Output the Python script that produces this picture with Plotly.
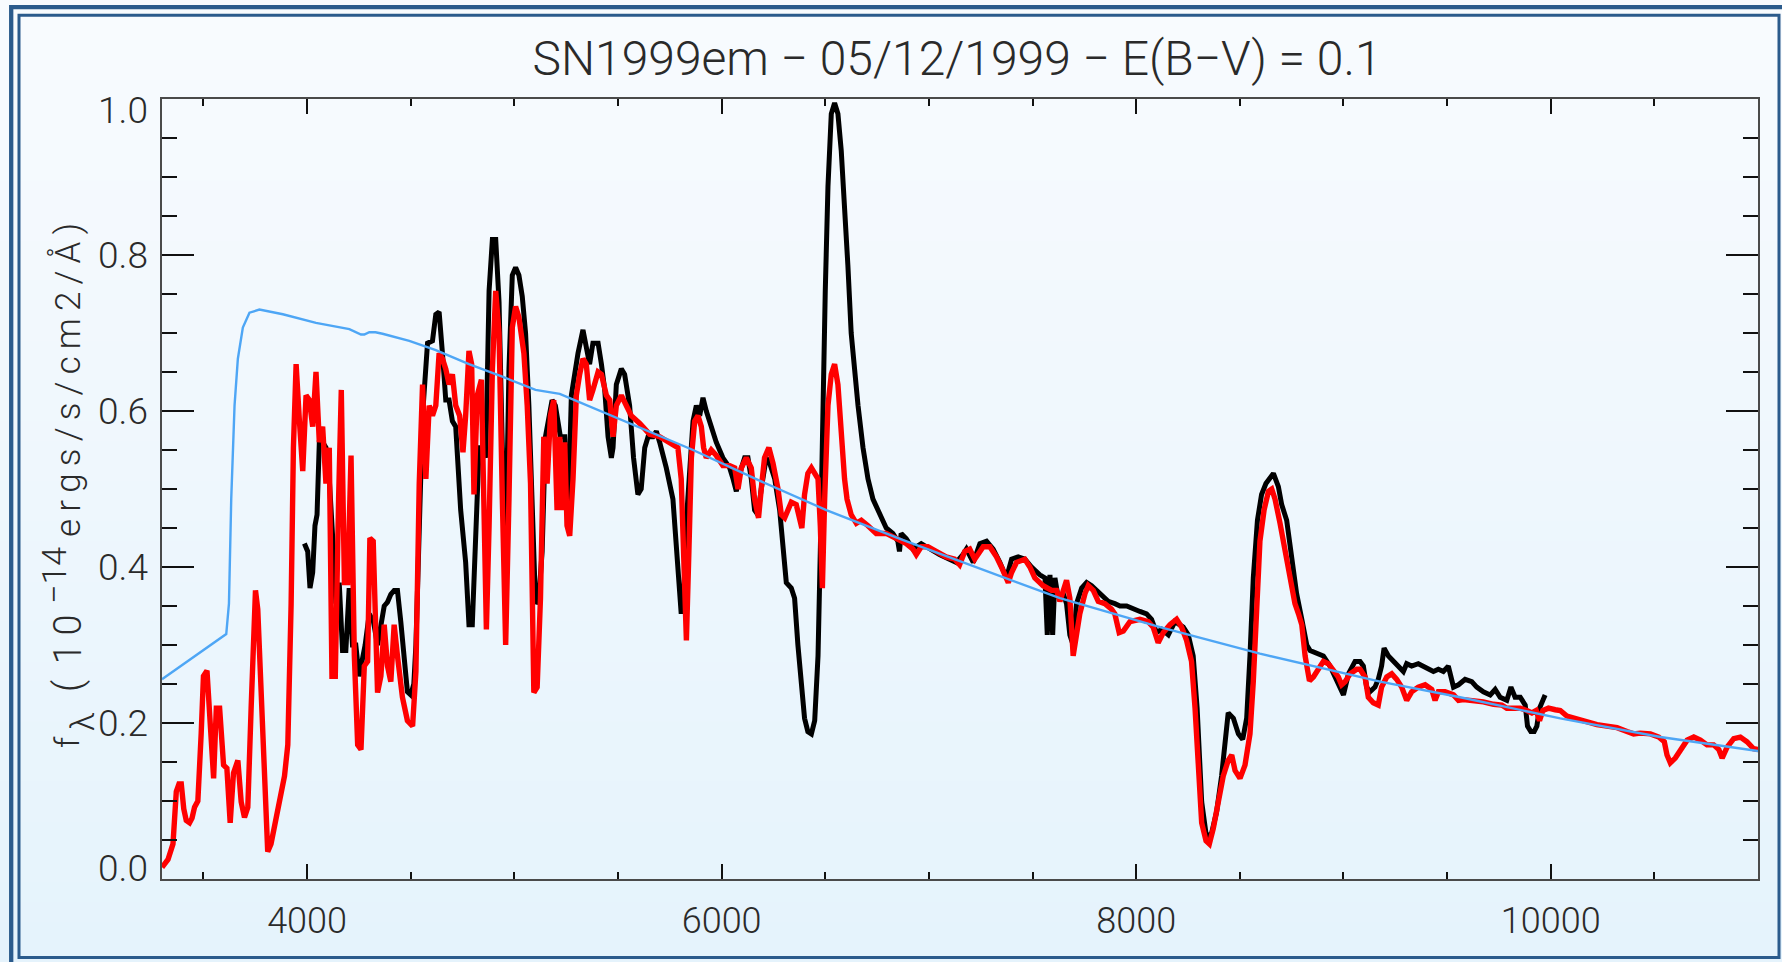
import plotly.graph_objects as go

# ---- spectra (wavelength in Angstrom, flux in 1e-14 erg/s/cm2/A) ----
wave_model = [3300, 3329, 3353, 3369, 3382, 3393, 3405, 3417, 3433, 3445, 3457, 3473, 3489, 3500,
              3517, 3533, 3549, 3562, 3578, 3597, 3613, 3629, 3645, 3666, 3682, 3698, 3714, 3730,
              3751, 3762, 3786, 3810, 3826, 3859, 3891, 3907, 3923, 3934, 3947, 3963, 3979, 3995,
              4011, 4027, 4043, 4059, 4075, 4091, 4107, 4120, 4136, 4152, 4165, 4180, 4196, 4212,
              4228, 4244, 4260, 4276, 4292, 4303, 4319, 4340, 4356, 4372, 4388, 4404, 4420, 4436,
              4460, 4484, 4509, 4525, 4541, 4557, 4573, 4589, 4605, 4621, 4637, 4653, 4669, 4685,
              4701, 4717, 4736, 4752, 4765, 4781, 4794, 4805, 4821, 4841, 4854, 4865, 4878, 4894,
              4910, 4926, 4942, 4958, 4974, 4990, 5006, 5022, 5046, 5062, 5078, 5094, 5110, 5126,
              5142, 5158, 5174, 5190, 5206, 5219, 5232, 5243, 5254, 5267, 5283, 5299, 5315, 5331,
              5347, 5363, 5379, 5404, 5420, 5444, 5460, 5476, 5492, 5516, 5540, 5564, 5605, 5653,
              5701, 5749, 5789, 5805, 5817, 5830, 5842, 5854, 5870, 5886, 5902, 5913, 5926, 5950,
              5974, 6006, 6039, 6063, 6079, 6095, 6119, 6143, 6159, 6178, 6191, 6207, 6228, 6248,
              6272, 6288, 6304, 6320, 6336, 6360, 6376, 6387, 6400, 6416, 6433, 6449, 6465, 6476,
              6486, 6497, 6513, 6529, 6545, 6561, 6577, 6593, 6605, 6625, 6650, 6674, 6706, 6746,
              6794, 6842, 6891, 6923, 6939, 6963, 6995, 7035, 7083, 7124, 7148, 7173, 7197, 7221,
              7237, 7262, 7294, 7326, 7350, 7383, 7399, 7423, 7463, 7487, 7511, 7551, 7592, 7616,
              7632, 7648, 7664, 7680, 7696, 7712, 7728, 7753, 7769, 7793, 7817, 7849, 7881, 7897,
              7918, 7938, 7970, 8018, 8058, 8082, 8106, 8131, 8163, 8195, 8219, 8243, 8267, 8284,
              8300, 8316, 8337, 8353, 8372, 8396, 8420, 8444, 8461, 8477, 8501, 8525, 8549, 8565,
              8581, 8597, 8617, 8638, 8654, 8670, 8694, 8718, 8742, 8766, 8783, 8799, 8815, 8836,
              8855, 8879, 8903, 8927, 8951, 8975, 8991, 9008, 9032, 9064, 9080, 9104, 9120, 9144,
              9168, 9184, 9209, 9233, 9257, 9281, 9305, 9329, 9361, 9394, 9426, 9442, 9458, 9490,
              9531, 9555, 9579, 9627, 9675, 9724, 9764, 9788, 9820, 9853, 9885, 9909, 9930, 9946,
              9962, 9989, 10022, 10046, 10078, 10126, 10175, 10223, 10271, 10320, 10368, 10400,
              10432, 10481, 10521, 10548, 10561, 10577, 10601, 10625, 10658, 10690, 10722, 10754,
              10786, 10811, 10827, 10851, 10883, 10915, 10947, 10979, 11000]
flux_model = [0.015, 0.025, 0.045, 0.112, 0.122, 0.122, 0.090, 0.075, 0.072, 0.078, 0.092, 0.100, 0.186, 0.260,
              0.267, 0.186, 0.129, 0.219, 0.219, 0.146, 0.142, 0.072, 0.136, 0.152, 0.099, 0.079, 0.092, 0.219,
              0.370, 0.346, 0.186, 0.035, 0.045, 0.086, 0.132, 0.172, 0.353, 0.553, 0.660, 0.587, 0.523, 0.620,
              0.614, 0.580, 0.650, 0.560, 0.580, 0.507, 0.553, 0.260, 0.260, 0.487, 0.627, 0.380, 0.380, 0.543,
              0.286, 0.172, 0.166, 0.273, 0.279, 0.437, 0.433, 0.239, 0.260, 0.326, 0.273, 0.253, 0.326, 0.286,
              0.233, 0.203, 0.196, 0.266, 0.507, 0.634, 0.513, 0.607, 0.594, 0.607, 0.674, 0.667, 0.654, 0.634,
              0.647, 0.607, 0.594, 0.547, 0.594, 0.677, 0.660, 0.493, 0.620, 0.640, 0.467, 0.320, 0.453, 0.654,
              0.754, 0.700, 0.487, 0.300, 0.487, 0.707, 0.734, 0.720, 0.674, 0.607, 0.507, 0.239, 0.246, 0.360,
              0.567, 0.507, 0.594, 0.614, 0.473, 0.567, 0.473, 0.560, 0.453, 0.440, 0.513, 0.620, 0.647, 0.667,
              0.660, 0.614, 0.627, 0.650, 0.647, 0.620, 0.614, 0.567, 0.607, 0.620, 0.607, 0.594, 0.584, 0.570,
              0.567, 0.560, 0.553, 0.513, 0.420, 0.306, 0.420, 0.540, 0.587, 0.594, 0.580, 0.553, 0.540, 0.550,
              0.543, 0.530, 0.530, 0.527, 0.500, 0.527, 0.540, 0.527, 0.487, 0.463, 0.500, 0.540, 0.553, 0.533,
              0.500, 0.467, 0.463, 0.473, 0.483, 0.480, 0.460, 0.450, 0.493, 0.520, 0.527, 0.520, 0.513, 0.453,
              0.373, 0.487, 0.607, 0.647, 0.660, 0.634, 0.567, 0.513, 0.487, 0.467, 0.456, 0.460, 0.453, 0.443,
              0.443, 0.436, 0.430, 0.423, 0.416, 0.426, 0.426, 0.420, 0.413, 0.410, 0.403, 0.420, 0.423, 0.410,
              0.416, 0.426, 0.426, 0.413, 0.400, 0.380, 0.393, 0.406, 0.410, 0.400, 0.386, 0.376, 0.370, 0.370,
              0.356, 0.370, 0.383, 0.360, 0.286, 0.313, 0.340, 0.366, 0.376, 0.370, 0.356, 0.353, 0.346, 0.340,
              0.316, 0.318, 0.330, 0.333, 0.330, 0.323, 0.303, 0.316, 0.326, 0.333, 0.323, 0.306, 0.279, 0.219,
              0.132, 0.072, 0.049, 0.045, 0.065, 0.099, 0.132, 0.152, 0.159, 0.139, 0.129, 0.146, 0.186, 0.253,
              0.353, 0.433, 0.473, 0.497, 0.500, 0.487, 0.456, 0.420, 0.383, 0.353, 0.340, 0.326, 0.286, 0.254,
              0.259, 0.269, 0.279, 0.276, 0.266, 0.259, 0.249, 0.253, 0.263, 0.269, 0.269, 0.259, 0.233, 0.226,
              0.223, 0.246, 0.259, 0.263, 0.256, 0.246, 0.229, 0.240, 0.246, 0.249, 0.243, 0.229, 0.240, 0.240,
              0.236, 0.229, 0.230, 0.229, 0.227, 0.224, 0.223, 0.219, 0.219, 0.219, 0.216, 0.213, 0.216, 0.203,
              0.216, 0.219, 0.217, 0.216, 0.209, 0.205, 0.201, 0.198, 0.196, 0.194, 0.189, 0.186,
              0.187, 0.186, 0.182, 0.176, 0.159, 0.149, 0.155, 0.166, 0.178, 0.182, 0.178, 0.172,
              0.172, 0.166, 0.155, 0.169, 0.180, 0.182, 0.176, 0.167, 0.166]

wave_obs = [3987, 4003, 4014, 4027, 4038, 4048, 4059, 4075, 4091, 4107, 4123, 4139, 4155, 4171, 4187,
            4203, 4219, 4235, 4251, 4265, 4280, 4300, 4320, 4340, 4356, 4372, 4388, 4404, 4420, 4436,
            4452, 4468, 4484, 4500, 4515, 4525, 4557, 4581, 4605, 4621, 4637, 4653, 4669, 4685, 4701,
            4717, 4741, 4765, 4781, 4797, 4810, 4830, 4846, 4862, 4878, 4894, 4910, 4926, 4942, 4958,
            4974, 4990, 5006, 5022, 5038, 5054, 5070, 5086, 5102, 5118, 5134, 5150, 5166, 5182, 5198,
            5222, 5243, 5259, 5275, 5291, 5307, 5331, 5347, 5363, 5379, 5404, 5420, 5436, 5452, 5468,
            5476, 5492, 5516, 5532, 5556, 5575, 5596, 5612, 5629, 5645, 5669, 5685, 5701, 5733, 5765,
            5789, 5805, 5817, 5835, 5862, 5878, 5894, 5910, 5926, 5950, 5974, 6006, 6039, 6055, 6071,
            6087, 6111, 6127, 6143, 6159, 6175, 6191, 6215, 6232, 6256, 6280, 6296, 6312, 6336, 6352,
            6368, 6384, 6400, 6416, 6433, 6449, 6465, 6476, 6489, 6500, 6513, 6529, 6545, 6561, 6577,
            6593, 6609, 6625, 6641, 6658, 6682, 6706, 6730, 6762, 6794, 6826, 6850, 6858, 6866, 6891,
            6923, 6963, 7003, 7051, 7099, 7132, 7164, 7181, 7214, 7246, 7278, 7310, 7342, 7374, 7399,
            7431, 7463, 7495, 7535, 7560, 7571, 7584, 7597, 7608, 7624, 7648, 7664, 7680, 7696, 7712,
            7737, 7761, 7785, 7809, 7833, 7865, 7897, 7922, 7954, 7986, 8018, 8050, 8074, 8098, 8123,
            8155, 8187, 8227, 8251, 8275, 8294, 8316, 8340, 8364, 8388, 8412, 8428, 8444, 8469, 8493,
            8514, 8533, 8549, 8565, 8585, 8605, 8626, 8646, 8662, 8686, 8702, 8726, 8750, 8774, 8799,
            8823, 8839, 8871, 8903, 8935, 8967, 9000, 9024, 9056, 9080, 9096, 9112, 9128, 9152, 9168,
            9184, 9196, 9217, 9241, 9265, 9289, 9305, 9329, 9361, 9386, 9410, 9434, 9458, 9482, 9506,
            9531, 9555, 9587, 9619, 9643, 9675, 9708, 9732, 9756, 9788, 9808, 9828, 9853, 9877, 9888,
            9904, 9920, 9933, 9946, 9962, 9973]
flux_obs = [0.430, 0.420, 0.373, 0.393, 0.453, 0.467, 0.560, 0.560, 0.553, 0.513, 0.440, 0.353, 0.380, 0.293, 0.293,
            0.373, 0.300, 0.300, 0.260, 0.280, 0.300, 0.340, 0.330, 0.300, 0.330, 0.350, 0.355, 0.365, 0.370, 0.370,
            0.330, 0.280, 0.240, 0.236, 0.250, 0.300, 0.594, 0.687, 0.690, 0.724, 0.727, 0.674, 0.614, 0.614, 0.587,
            0.580, 0.473, 0.406, 0.326, 0.326, 0.420, 0.553, 0.553, 0.540, 0.754, 0.820, 0.820, 0.740, 0.553, 0.420,
            0.654, 0.774, 0.784, 0.774, 0.747, 0.700, 0.607, 0.453, 0.353, 0.360, 0.420, 0.567, 0.594, 0.614, 0.607,
            0.567, 0.567, 0.460, 0.620, 0.647, 0.674, 0.704, 0.680, 0.660, 0.687, 0.687, 0.660, 0.627, 0.567, 0.540,
            0.553, 0.634, 0.654, 0.647, 0.607, 0.540, 0.493, 0.500, 0.553, 0.567, 0.567, 0.574, 0.560, 0.527, 0.487,
            0.406, 0.340, 0.366, 0.480, 0.587, 0.607, 0.594, 0.617, 0.600, 0.580, 0.560, 0.540, 0.527, 0.513, 0.497,
            0.520, 0.540, 0.540, 0.513, 0.473, 0.467, 0.500, 0.540, 0.533, 0.513, 0.473, 0.420, 0.380, 0.373, 0.360,
            0.300, 0.246, 0.206, 0.189, 0.186, 0.203, 0.286, 0.420, 0.620, 0.754, 0.888, 0.981, 0.995, 0.981, 0.934,
            0.868, 0.787, 0.700, 0.647, 0.607, 0.553, 0.513, 0.487, 0.467, 0.450, 0.443, 0.433, 0.420, 0.443, 0.436,
            0.423, 0.430, 0.423, 0.416, 0.410, 0.406, 0.416, 0.423, 0.406, 0.430, 0.433, 0.423, 0.406, 0.386, 0.410,
            0.413, 0.410, 0.400, 0.390, 0.386, 0.313, 0.390, 0.313, 0.386, 0.360, 0.366, 0.353, 0.313, 0.300, 0.353,
            0.373, 0.380, 0.376, 0.370, 0.366, 0.356, 0.353, 0.350, 0.350, 0.346, 0.343, 0.340, 0.333, 0.316, 0.320,
            0.313, 0.330, 0.323, 0.313, 0.286, 0.219, 0.099, 0.052, 0.059, 0.086, 0.132, 0.179, 0.213, 0.206, 0.186,
            0.179, 0.206, 0.286, 0.386, 0.460, 0.493, 0.507, 0.513, 0.520, 0.503, 0.480, 0.460, 0.413, 0.366, 0.333,
            0.300, 0.293, 0.290, 0.286, 0.273, 0.253, 0.236, 0.263, 0.279, 0.279, 0.273, 0.246, 0.240, 0.246, 0.256,
            0.273, 0.296, 0.286, 0.279, 0.273, 0.266, 0.276, 0.273, 0.276, 0.273, 0.269, 0.266, 0.269, 0.266, 0.273,
            0.246, 0.249, 0.256, 0.253, 0.246, 0.240, 0.236, 0.243, 0.233, 0.229, 0.246, 0.233, 0.233, 0.223, 0.196,
            0.189, 0.189, 0.196, 0.219, 0.229, 0.236]

wave_cont = [3300, 3400, 3500, 3560, 3610, 3623, 3634, 3650, 3666, 3690, 3722, 3770, 3883, 4043, 4204,
             4260, 4276, 4300, 4330, 4364, 4493, 4621, 4781, 4942, 5102, 5219, 5540, 5862, 6180, 6505,
             6870, 7244, 7632, 8115, 8597, 9177, 9563, 10046, 10529, 11000]
flux_cont = [0.256, 0.275, 0.293, 0.305, 0.314, 0.353, 0.487, 0.607, 0.667, 0.707, 0.726, 0.730, 0.724, 0.713, 0.705,
             0.698, 0.698, 0.701, 0.701, 0.699, 0.690, 0.678, 0.660, 0.644, 0.627, 0.622, 0.586, 0.550, 0.511, 0.473,
             0.435, 0.398, 0.360, 0.323, 0.289, 0.253, 0.233, 0.206, 0.182, 0.164]

x_major = [4000, 6000, 8000, 10000]
y_major = [0.0, 0.2, 0.4, 0.6, 0.8, 1.0]
y_labels = ["0.0", "0.2", "0.4", "0.6", "0.8", "1.0"]

title_text = "SN1999em − 05/12/1999 − E(B−V) = 0.1"

# y-axis title pieces: (text, centre x px, centre y px, font size)
THIN = "\u2009"
ytitle_parts = [
    ("f", 67, 742, 34),
    ("λ", 82, 722, 34),
    ("(" + THIN + THIN + "1" + THIN + "0", 68, 653, 38),
    ("−14", 54, 576, 34),
    (THIN.join("ergs/s/cm2/Å)"), 67, 380, 35),
]

# ---- page geometry ----
W, H = 1782, 962
ML, MR, MT, MB = 162, 24, 99, 83
PW, PH = W - ML - MR, H - MT - MB


def px(x):
    return (x - ML) / PW


def py(y):
    return (H - MB - y) / PH


FONT = "Roboto"
TEXT_COLOR = "#2a2a2a"
FRAME = "#2b5b8c"

fig = go.Figure()
fig.add_trace(go.Scatter(x=wave_obs, y=flux_obs, mode="lines",
                         line=dict(color="#000000", width=5.0), hoverinfo="skip"))
fig.add_trace(go.Scatter(x=wave_model, y=flux_model, mode="lines",
                         line=dict(color="#ff0000", width=5.4), hoverinfo="skip"))
fig.add_trace(go.Scatter(x=wave_cont, y=flux_cont, mode="lines",
                         line=dict(color="#4ea6f5", width=2.4), hoverinfo="skip"))

# vertical background gradient, pale at the top to light blue at the bottom
shapes = []
n_bands = 48
top_rgb = (248, 251, 254)
bot_rgb = (229, 243, 252)
for i in range(n_bands):
    t = i / (n_bands - 1)
    c = tuple(round(a + (b - a) * t) for a, b in zip(top_rgb, bot_rgb))
    y0 = H * i / n_bands
    y1 = H * (i + 1) / n_bands + 1
    shapes.append(dict(type="rect", xref="paper", yref="paper", layer="below",
                       x0=px(-5), x1=px(W + 5), y0=py(y1), y1=py(y0),
                       fillcolor="rgb(%d,%d,%d)" % c, line=dict(width=0)))

# double frame
shapes.append(dict(type="rect", xref="paper", yref="paper", layer="above",
                   x0=px(11.2), x1=px(W + 20), y0=py(H + 20), y1=py(7.2),
                   line=dict(color=FRAME, width=4.3), fillcolor="rgba(0,0,0,0)"))
shapes.append(dict(type="rect", xref="paper", yref="paper", layer="above",
                   x0=px(19), x1=px(1779), y0=py(957.6), y1=py(15.3),
                   line=dict(color=FRAME, width=3), fillcolor="rgba(0,0,0,0)"))

annotations = []
for v, lab in zip(y_major, y_labels):
    shift = 11 if v == 0.0 else (-11 if v == 1.0 else 0)
    annotations.append(dict(x=0, xref="paper", y=v, yref="y", text=lab, showarrow=False,
                            xanchor="right", yanchor="middle", xshift=-12, yshift=shift,
                            font=dict(family=FONT, size=37, color=TEXT_COLOR, weight=300)))
for txt, cx, cy, size in ytitle_parts:
    annotations.append(dict(x=px(cx), y=py(cy), xref="paper", yref="paper", text=txt,
                            textangle=-90, showarrow=False, xanchor="center", yanchor="middle",
                            font=dict(family=FONT, size=size, color=TEXT_COLOR, weight=300)))

fig.update_layout(
    width=W, height=H,
    margin=dict(l=ML, r=MR, t=MT, b=MB),
    paper_bgcolor="rgb(238,247,253)",
    plot_bgcolor="rgba(0,0,0,0)",
    showlegend=False,
    font=dict(family=FONT, color=TEXT_COLOR, weight=300),
    title=dict(text=title_text, x=957 / W, xanchor="center", xref="container",
               y=1 - 58 / H, yanchor="middle", yref="container",
               font=dict(family=FONT, size=48, color=TEXT_COLOR, weight=300)),
    shapes=shapes,
    annotations=annotations,
)

fig.update_xaxes(range=[3300, 11000], tickvals=x_major, ticktext=[str(v) for v in x_major],
                 ticks="inside", ticklen=15, tickwidth=1.5, tickcolor="#111111",
                 showline=True, linecolor="#4a4a4a", linewidth=1.5, mirror="ticks",
                 showgrid=False, zeroline=False, ticklabelstandoff=9,
                 tickfont=dict(family=FONT, size=36, color=TEXT_COLOR, weight=300),
                 minor=dict(tick0=0, dtick=500, ticks="inside", ticklen=7, tickwidth=1.5,
                            tickcolor="#111111", showgrid=False))
fig.update_yaxes(range=[0, 1], tickvals=y_major, showticklabels=False,
                 ticks="inside", ticklen=32, tickwidth=1.5, tickcolor="#111111",
                 showline=True, linecolor="#4a4a4a", linewidth=1.5, mirror="ticks",
                 showgrid=False, zeroline=False,
                 minor=dict(tick0=0, dtick=0.05, ticks="inside", ticklen=15.5, tickwidth=1.5,
                            tickcolor="#111111", showgrid=False))

fig.write_html("out.html")
